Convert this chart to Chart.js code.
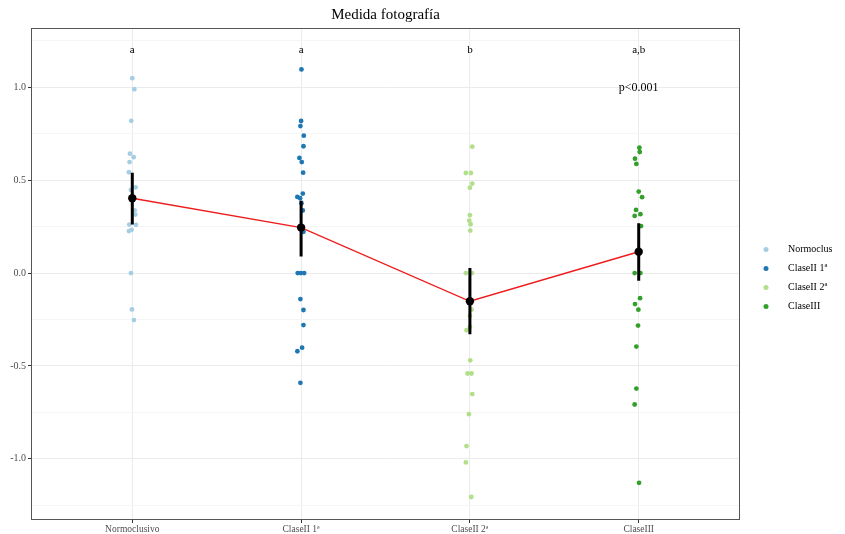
<!DOCTYPE html>
<html>
<head>
<meta charset="utf-8">
<script src="https://cdn.jsdelivr.net/npm/chart.js@4/dist/chart.umd.min.js"></script>
<style>
  html, body { margin: 0; padding: 0; background: #fff; }
  #wrap { width: 845px; height: 534px; position: relative; }
</style>
</head>
<body>
<div id="wrap"><canvas id="fotoChart"></canvas></div>
<script>
// Datos
const categories = ['Normoclusivo', 'ClaseII 1ª', 'ClaseII 2ª', 'ClaseIII'];
const legendLabels = ['Normoclus', 'ClaseII 1ª', 'ClaseII 2ª', 'ClaseIII'];
const groupColors = ['#A6CEE3', '#1F78B4', '#B2DF8A', '#33A02C'];

const normoVals = [1.05, 0.99, 0.82, 0.643, 0.624, 0.598, 0.543, 0.462, 0.448, 0.337, 0.315, 0.261, 0.26, 0.233, 0.226, 0.0, -0.196, -0.253];
const normoJitter = [0, 0.012, -0.006, -0.014, 0.008, -0.016, -0.02, 0.02, -0.008, 0.014, 0.018, -0.018, 0.022, -0.004, -0.02, -0.008, -0.002, 0.01];

const clase1Vals = [1.097, 0.819, 0.792, 0.74, 0.683, 0.62, 0.598, 0.541, 0.428, 0.41, 0.403, 0.376, 0.337, 0.222, 0.0, 0.0, 0.0, -0.14, -0.199, -0.28, -0.402, -0.421, -0.591];
const clase1Jitter = [0.002, 0, -0.004, 0.016, 0.014, -0.01, 0.004, 0.012, 0.01, -0.022, -0.006, 0.002, 0.01, 0.014, -0.02, -0.002, 0.018, -0.004, 0.014, 0.014, 0.006, -0.022, -0.004];

const clase2Vals = [0.681, 0.539, 0.539, 0.482, 0.46, 0.312, 0.283, 0.263, 0.229, 0.0, 0.0, -0.197, -0.23, -0.29, -0.308, -0.47, -0.541, -0.541, -0.652, -0.76, -0.932, -1.02, -1.206];
const clase2Jitter = [0.014, -0.024, 0.006, 0.014, 0, 0, -0.004, 0.004, 0.002, -0.024, 0.012, 0.01, 0, 0, -0.02, 0.002, -0.014, 0.01, 0.014, -0.006, -0.02, -0.024, 0.008];

const clase3Vals = [0.675, 0.652, 0.616, 0.588, 0.439, 0.409, 0.34, 0.317, 0.308, 0.253, 0.0, 0.0, -0.135, -0.167, -0.197, -0.283, -0.396, -0.622, -0.708, -1.13];
const clase3Jitter = [0.004, 0.006, -0.022, -0.014, 0, 0.02, -0.016, 0.01, -0.024, 0.014, -0.024, 0.01, 0.008, -0.022, -0.002, -0.004, -0.014, -0.014, -0.024, 0.002];

const means = [0.403, 0.245, -0.152, 0.115];
const ciLow = [0.261, 0.089, -0.33, -0.041];
const ciHigh = [0.541, 0.39, 0.027, 0.269];

const letters = ['a', 'a', 'b', 'a,b'];
const pText = 'p<0.001';
const yTicks = [-1.0, -0.5, 0.0, 0.5, 1.0];
const yMinor = [-1.25, -0.75, -0.25, 0.25, 0.75, 1.25];

const serif = "'Liberation Serif', 'DejaVu Serif', serif";

function points(vals, jit, pos) {
    return vals.map((v, i) => ({ x: pos + jit[i], y: v }));
}

const groups = [
    [normoVals, normoJitter],
    [clase1Vals, clase1Jitter],
    [clase2Vals, clase2Jitter],
    [clase3Vals, clase3Jitter]
];

const groupSets = groups.map((g, i) => ({
    type: 'scatter',
    label: legendLabels[i],
    data: points(g[0], g[1], i + 1),
    backgroundColor: groupColors[i],
    borderWidth: 0,
    pointRadius: 2.4,
    order: 5
}));

// barras de error: segmentos verticales separados por null
const errData = [];
means.forEach((m, i) => {
    errData.push({ x: i + 1, y: ciLow[i] });
    errData.push({ x: i + 1, y: ciHigh[i] });
    errData.push({ x: i + 1, y: null });
});

// Texto, marco y leyenda
const extrasPlugin = {
    id: 'extras',
    afterDatasetsDraw(chart) {
        const { ctx, chartArea, scales } = chart;
        ctx.save();
        ctx.fillStyle = '#000';
        ctx.textAlign = 'center';
        ctx.textBaseline = 'middle';
        ctx.font = "11px " + serif;
        letters.forEach((t, i) => {
            ctx.fillText(t, scales.x.getPixelForValue(i + 1), scales.y.getPixelForValue(1.2));
        });
        ctx.font = "12px " + serif;
        ctx.fillText(pText, scales.x.getPixelForValue(4), scales.y.getPixelForValue(1.0));

        // marco del panel
        ctx.strokeStyle = '#555';
        ctx.lineWidth = 1;
        ctx.strokeRect(chartArea.left + 0.5, chartArea.top + 0.5,
            chartArea.right - chartArea.left - 1, chartArea.bottom - chartArea.top - 1);

        // leyenda
        const lx = chartArea.right + 26;
        const midY = (chartArea.top + chartArea.bottom) / 2 + 4;
        const step = 19;
        ctx.font = "10px " + serif;
        ctx.textAlign = 'left';
        legendLabels.forEach((lab, i) => {
            const y = midY - 1.5 * step + i * step;
            ctx.beginPath();
            ctx.fillStyle = groupColors[i];
            ctx.arc(lx, y, 2.5, 0, Math.PI * 2);
            ctx.fill();
            ctx.fillStyle = '#000';
            ctx.fillText(lab, lx + 22, y);
        });
        ctx.restore();
    }
};

const ctx = document.getElementById('fotoChart').getContext('2d');
const fotoChart = new Chart(ctx, {
    type: 'scatter',
    data: {
        datasets: [
            ...groupSets,
            {
                type: 'line',
                label: 'media',
                data: means.map((m, i) => ({ x: i + 1, y: m })),
                borderColor: '#EE1C1C',
                borderWidth: 1.4,
                pointRadius: 0,
                fill: false,
                order: 4
            },
            {
                type: 'line',
                label: 'error',
                data: errData,
                borderColor: '#000',
                borderWidth: 3,
                borderCapStyle: 'butt',
                pointRadius: 0,
                spanGaps: false,
                fill: false,
                order: 3
            },
            {
                type: 'scatter',
                label: 'mediaPts',
                data: means.map((m, i) => ({ x: i + 1, y: m })),
                backgroundColor: '#000',
                borderWidth: 0,
                pointRadius: 4.2,
                order: 1
            }
        ]
    },
    options: {
        responsive: true,
        maintainAspectRatio: false,
        animation: false,
        layout: { padding: { left: 0, right: 105, top: 0, bottom: 0 } },
        plugins: {
            legend: { display: false },
            tooltip: { enabled: false },
            title: {
                display: true,
                text: 'Medida fotografía',
                fullSize: false,
                color: '#000',
                font: { family: serif, size: 15, weight: 'normal' },
                padding: { top: 6, bottom: 4 }
            }
        },
        scales: {
            x: {
                type: 'linear',
                min: 0.4,
                max: 4.6,
                afterBuildTicks: (s) => { s.ticks = categories.map((c, i) => ({ value: i + 1 })); },
                afterFit: (s) => { s.height = 14; },
                border: { display: false },
                grid: { color: '#ebebeb', tickColor: '#333', tickLength: 3 },
                ticks: {
                    color: '#4d4d4d',
                    font: { family: serif, size: 9.5 },
                    padding: 1,
                    maxRotation: 0,
                    callback: (v) => categories[Math.round(v) - 1]
                }
            },
            y: {
                type: 'linear',
                min: -1.33,
                max: 1.32,
                afterBuildTicks: (s) => {
                    s.ticks = yTicks.concat(yMinor).sort((a, b) => a - b).map(v => ({ value: v }));
                },
                afterFit: (s) => { s.width = 31; },
                border: { display: false },
                grid: {
                    color: (c) => yTicks.includes(c.tick.value) ? '#ebebeb' : '#f5f5f5',
                    tickColor: (c) => yTicks.includes(c.tick.value) ? '#333' : 'rgba(0,0,0,0)',
                    tickLength: 3
                },
                ticks: {
                    color: '#4d4d4d',
                    font: { family: serif, size: 10 },
                    padding: 2,
                    callback: (v) => yTicks.includes(v) ? v.toFixed(1) : ''
                }
            }
        }
    },
    plugins: [extrasPlugin]
});
</script>
</body>
</html>
